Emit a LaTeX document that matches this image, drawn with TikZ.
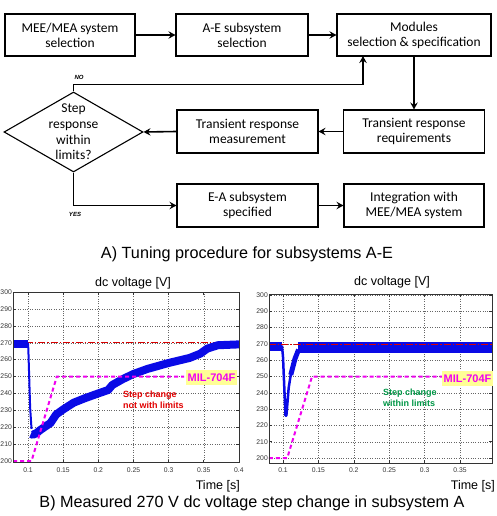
\documentclass[tikz,border=0pt]{standalone}
\usepackage{fontspec}
\setmainfont{Liberation Sans}
\newfontfamily\boxfont{Carlito}
\usetikzlibrary{arrows.meta,shapes.geometric}
\definecolor{plotblue}{RGB}{10,10,230}
\definecolor{mag}{RGB}{240,0,240}
\definecolor{labyellow}{RGB}{255,255,150}
\definecolor{txtred}{RGB}{225,0,0}
\definecolor{txtgreen}{RGB}{0,150,70}
\begin{document}
\begin{tikzpicture}[x=1pt,y=-1pt,
  fbox/.style={draw, line width=1.1pt, font=\boxfont\fontsize{13.5}{15}\selectfont, align=center, inner sep=0pt},
  arr/.style={line width=1.6pt, -{Stealth[length=7pt,width=7.5pt,inset=2.5pt]}},
  capt/.style={font=\fontsize{16.2}{18}\selectfont, inner sep=0pt},
  ptitle/.style={font=\fontsize{12.5}{14}\selectfont, inner sep=0pt},
  tick/.style={font=\fontsize{6.8}{7}\selectfont, inner sep=1pt, text=black!80},
  gridl/.style={black!60, line width=0.4pt, dash pattern=on 0.8pt off 1.6pt},
  frame/.style={black!80, line width=0.6pt},
  band/.style={plotblue, line width=8pt, line join=round, line cap=butt},
  env/.style={mag, line width=2pt, dash pattern=on 4pt off 3pt},
  ref/.style={red!85!black, line width=0.6pt, dash pattern=on 7pt off 2pt on 1.5pt off 2pt},
  milbox/.style={fill=labyellow, text=mag, font=\bfseries\fontsize{11}{12}\selectfont, inner xsep=2pt, inner ysep=4pt},
  note/.style={font=\bfseries\fontsize{9}{11}\selectfont, align=left, inner sep=0pt},
  yesno/.style={font=\bfseries\itshape\fontsize{6}{7}\selectfont, inner sep=0pt}
]
\useasboundingbox (0,0) rectangle (496,516);

% ---------- flow chart ----------
\node[fbox, minimum width=130pt, minimum height=42pt] (b1) at (70,35) {MEE/MEA system\\selection};
\node[fbox, minimum width=132pt, minimum height=42pt] (b2) at (242,35) {A-E subsystem\\selection};
\node[fbox, minimum width=154pt, minimum height=42pt] (b3) at (414,35) {Modules\\selection \& specification};
\node[fbox, minimum width=141pt, minimum height=43pt] (req) at (414,131.5) {Transient response\\requirements};
\node[fbox, minimum width=141pt, minimum height=43pt] (meas) at (247.5,131.5) {Transient response\\measurement};
\node[fbox, minimum width=141pt, minimum height=43pt] (ea) at (247.5,205.5) {E-A subsystem\\specified};
\node[fbox, minimum width=140pt, minimum height=43pt] (int) at (414,205.5) {Integration with\\MEE/MEA system};
\node[draw, diamond, line width=1.1pt, minimum width=139pt, minimum height=80pt, inner sep=0pt] (dia) at (73.5,132) {};
\node[font=\boxfont\fontsize{13.5}{15.6}\selectfont, align=center, inner sep=0pt] (diat) at (73.5,132) {Step\\response\\within\\limits?};
\coordinate (noin) at (363,56);

\draw[arr] (b1) -- (b2);
\draw[arr] (b2) -- (b3);
\draw[arr] (b3.south) -- (b3.south |- req.north);
\draw[arr] (req) -- (meas);
\draw[arr] (meas.west) -- (dia.east);
\draw[arr] (dia.north) -- ++(0,-7) -| (noin);
\draw[arr] (dia.south) |- (ea.west);
\draw[arr] (ea) -- (int);
\node[yesno] (no) at (79,77) {NO};
\node[yesno] (yes) at (75,214) {YES};

\node[capt] (capA) at (247,254) {A) Tuning procedure for subsystems A-E};

% ---------- left plot ----------
\begin{scope}[shift={(-42.3,799)}, x=703pt, y=1.69pt]
  \foreach \t in {0.1,0.15,0.2,0.25,0.3,0.35} \draw[gridl] (\t,199) -- (\t,300);
  \foreach \v in {210,220,230,240,250,260,270,280,290} \draw[gridl] (0.0787,\v) -- (0.4,\v);
  \foreach \t in {0.1,0.15,0.2,0.25,0.3,0.35} {\draw[frame] (\t,199) -- (\t,200.8); \draw[frame] (\t,300) -- (\t,298.2);}
  \foreach \v in {210,220,230,240,250,260,270,280,290} {\draw[frame] (0.0787,\v) -- (0.0830,\v); \draw[frame] (0.4,\v) -- (0.3957,\v);}
  \foreach \t in {0.1,0.15,0.2,0.25,0.3,0.35,0.4} \node[tick, anchor=north] at (\t,196.5) {\t};
  \foreach \v in {200,210,220,230,240,250,260,270,280,290,300} \node[tick, anchor=east] at (0.0787,\v) {\v};
  \draw[ref] (0.0787,270) -- (0.4,270);
  \draw[band] (0.0787,269.3) -- (0.1003,269.3);
  \draw[plotblue, line width=2pt] (0.1,270) -- (0.1005,266) -- (0.103,232) -- (0.105,219);
  \draw[band] (0.104,216) -- (0.107,215.5) -- (0.112,216.5) -- (0.118,218.5) -- (0.125,220.5) -- (0.132,222.5) -- (0.14,227.5) -- (0.15,230.5) -- (0.165,234.5) -- (0.18,237) -- (0.2,240) -- (0.214,242) -- (0.22,245) -- (0.235,248.5) -- (0.25,251.5) -- (0.27,254.5) -- (0.3,258) -- (0.33,261) -- (0.345,263.5) -- (0.355,266.5) -- (0.37,268.5) -- (0.4,269);
  \draw[env] (0.0787,200) -- (0.105,200) -- (0.141,250) -- (0.322,250);
  \draw[frame] (0.0787,199) rectangle (0.4,300);
\end{scope}
\node[milbox] (mil1) at (211.5,377.5) {MIL-704F};
\node[note, text=txtred, anchor=north west] (n1) at (123,391) {Step change\\not with limits};
\node[ptitle] (t1) at (133,283) {dc voltage [V]};
\node[ptitle, anchor=east] (x1) at (240,486) {Time [s]};

% ---------- right plot ----------
\begin{scope}[shift={(212.2,784)}, x=708pt, y=1.63pt]
  \foreach \t in {0.1,0.15,0.2,0.25,0.3,0.35} \draw[gridl] (\t,197) -- (\t,300.6);
  \foreach \v in {200,210,220,230,240,250,260,270,280,290,300} \draw[gridl] (0.0802,\v) -- (0.395,\v);
  \foreach \t in {0.1,0.15,0.2,0.25,0.3,0.35} {\draw[frame] (\t,197) -- (\t,198.8); \draw[frame] (\t,300.6) -- (\t,298.8);}
  \foreach \v in {200,210,220,230,240,250,260,270,280,290,300} {\draw[frame] (0.0802,\v) -- (0.0845,\v); \draw[frame] (0.395,\v) -- (0.3907,\v);}
  \foreach \t in {0.1,0.15,0.2,0.25,0.3,0.35} \node[tick, anchor=north] at (\t,194.5) {\t};
  \foreach \v in {200,210,220,230,240,250,260,270,280,290,300} \node[tick, anchor=east] at (0.0802,\v) {\v};
  \draw[band, line width=9pt] (0.0802,268.5) -- (0.099,268.5);
  \draw[plotblue, line width=2.5pt, line join=round] (0.0985,269) -- (0.100,262) -- (0.1035,226) -- (0.1048,226) -- (0.108,243) -- (0.112,254);
  \draw[plotblue, line width=5pt, line join=round] (0.111,251) -- (0.117,261) -- (0.122,266.5);
  \draw[band, line width=11pt] (0.121,267.8) -- (0.395,267.8);
  \draw[ref] (0.0802,270) -- (0.395,270);
  \draw[env] (0.0802,200) -- (0.106,200) -- (0.141,250) -- (0.3585,250);
\draw[frame] (0.0802,197) rectangle (0.395,300.6);
\end{scope}
\node[milbox] (mil2) at (467.5,378.5) {MIL-704F};
\node[note, text=txtgreen, anchor=north west] (n2) at (383,389) {Step change\\within limits};
\node[ptitle] (t2) at (392,282) {dc voltage [V]};
\node[ptitle, anchor=east] (x2) at (495,486) {Time [s]};

\node[capt] (capB) at (252,503) {B) Measured 270 V dc voltage step change in subsystem A};
\end{tikzpicture}
\end{document}
